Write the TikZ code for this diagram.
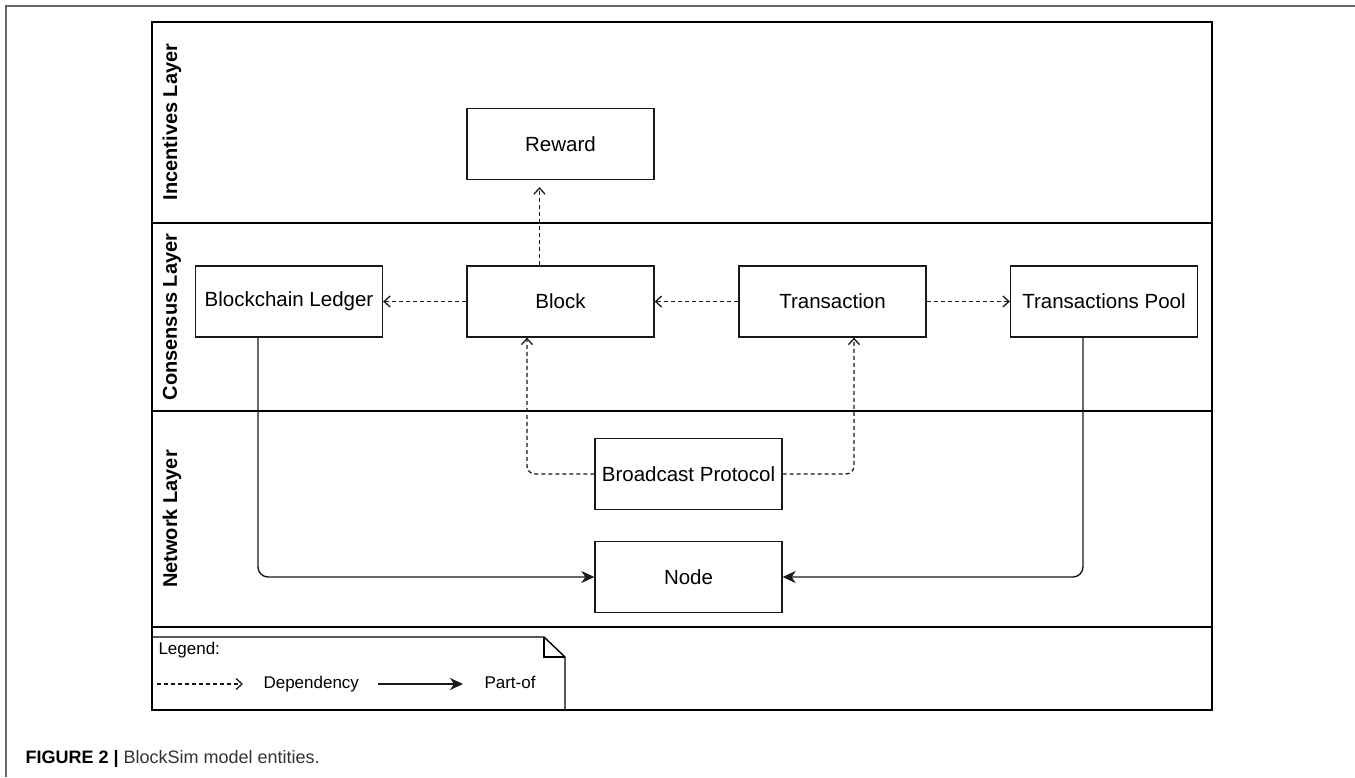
\documentclass[tikz,border=0pt]{standalone}
\usepackage{fontspec}
\setmainfont{Liberation Sans}
\usetikzlibrary{arrows.meta}

\begin{document}
\begin{tikzpicture}[x=1pt,y=-1pt]
\tikzstyle{entity}=[rectangle,draw=black!90,line width=1.3pt,minimum width=187pt,minimum height=71pt,inner sep=0pt,font=\fontsize{20.5}{24}\selectfont]
\tikzstyle{lane}=[rotate=90,font=\bfseries\fontsize{20}{24}\selectfont]
\tikzstyle{legtext}=[anchor=base west,font=\fontsize{17}{20}\selectfont]
\tikzstyle{dep}=[draw=black!90,line width=1.3pt,dash pattern=on 4pt off 3pt,-{Straight Barb[length=6pt,width=11pt]}]
\tikzstyle{partof}=[draw=black!90,line width=1.4pt,rounded corners=10pt,-{Stealth[length=13pt,width=12pt,inset=4pt]}]
\useasboundingbox (0,0) rectangle (1355,777);
\fill [white] (0,0) rectangle (1355,777);
% page frame
\draw [black!60,line width=1.5pt] (1355,6) -- (6,6) -- (6,777);
% layers
\draw [line width=2.8pt] (152,22) rectangle (1212,710);
\draw [line width=2.3pt] (152,223) -- (1212,223);
\draw [line width=2.3pt] (152,411) -- (1212,411);
\draw [line width=1.6pt] (152,627) -- (1212,627);
\node [lane] (inc) at (172,122) {Incentives Layer};
\node [lane] (con) at (172,317) {Consensus Layer};
\node [lane] (net) at (172,519) {Network Layer};
% entities
\node [entity] (reward) at (560.5,144) {Reward};
\node [entity] (ledger) at (289,301.5) {Blockchain Ledger};
\node [entity] (block) at (560.5,301.5) {Block};
\node [entity] (tx) at (832.5,301.5) {Transaction};
\node [entity] (pool) at (1104,301.5) {Transactions Pool};
\node [entity] (bcast) at (688.5,474) {Broadcast Protocol};
\node [entity] (node) at (688.5,577) {Node};
% dependencies
\draw [dep,shorten >=7pt] ([xshift=-21pt]block.north) -- ([xshift=-21pt]reward.south);
\draw [dep] (block.west) -- (ledger.east);
\draw [dep] (tx.west) -- (block.east);
\draw [dep] (tx.east) -- (pool.west);
\draw [dep,rounded corners=8pt] (bcast.west) -| ([xshift=-33.5pt]block.south);
\draw [dep,rounded corners=8pt] (bcast.east) -| ([xshift=21.5pt]tx.south);
% part-of
\draw [partof] ([xshift=-31pt]ledger.south) |- (node.west);
\draw [partof] ([xshift=-21pt]pool.south) |- (node.east);
% legend
\draw [line width=1.4pt] (152,637) -- (544,637) -- (565,657) -- (565,710) -- (152,710);
\draw [line width=1.3pt] (544,637) -- (544,657) -- (565,657);
\node [legtext] (legend) at (155,654) {Legend:};
\coordinate (d1) at (157,684);
\coordinate (d2) at (243,684);
\draw [dep] (d1) -- (d2);
\node [legtext] (deptext) at (260,688) {Dependency};
\coordinate (p1) at (378,684);
\coordinate (p2) at (463,684);
\draw [partof] (p1) -- (p2);
\node [legtext] (parttext) at (481,688) {Part-of};
% caption
\node [anchor=base west,font=\fontsize{18}{22}\selectfont] (caption) at (22,763) {\textbf{FIGURE 2 |} {\color{black!80}BlockSim model entities.}};
\end{tikzpicture}
\end{document}
